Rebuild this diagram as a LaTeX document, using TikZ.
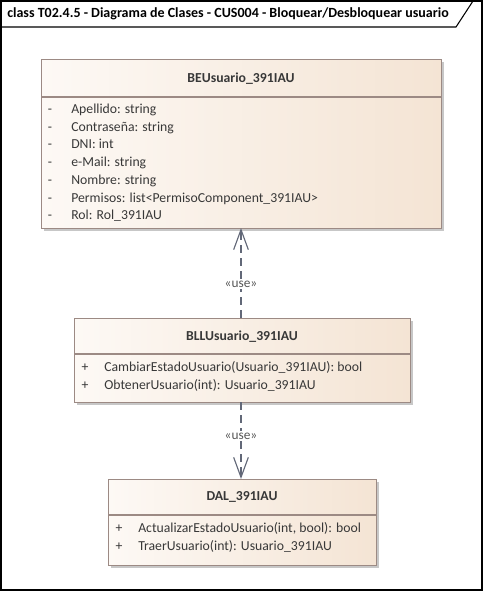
\documentclass[tikz,border=0pt]{standalone}
\usepackage{fontspec}
\setmainfont{Carlito}
\usetikzlibrary{arrows.meta}
\definecolor{txt}{HTML}{383838}
\definecolor{bord}{HTML}{9C8A84}
\definecolor{fillL}{HTML}{FDF9F5}
\definecolor{fillR}{HTML}{F4E4D4}
\definecolor{conn}{HTML}{626878}
\tikzset{
  classbox/.style={draw=bord, line width=0.9pt, rectangle, inner sep=0pt, left color=fillL, right color=fillR, anchor=north west},
  shadowbox/.style={fill=black!22, draw=none, rectangle, inner sep=0pt, anchor=north west},
  hdr/.style={font=\fontsize{10.3}{12}\selectfont\bfseries, text=txt, inner sep=0pt},
  mem/.style={font=\fontsize{10.3}{12}\selectfont, text=txt, anchor=base west, inner sep=0pt},
  vis/.style={font=\fontsize{10.3}{12}\selectfont, text=txt, anchor=base, inner sep=0pt},
  divline/.style={draw=bord, line width=0.9pt},
  usearrow/.style={draw=conn, line width=0.85pt, dash pattern=on 6pt off 3.8pt, -{Straight Barb[length=15pt,width=11pt,line width=0.85pt]}},
  stereo/.style={font=\fontsize{10}{11}\selectfont, text=txt!85, fill=white, inner sep=1pt}
}
\begin{document}
\begin{tikzpicture}[x=0.75pt,y=-0.75pt]
\useasboundingbox (0,0) rectangle (484,592);
% frame
\draw[black, line width=0.8pt] (1,1) rectangle (482,590);
\draw[black, line width=0.8pt] (1,27) -- (456,27) -- (473,1);
\node[font=\fontsize{10.5}{12}\selectfont\bfseries, anchor=west, inner sep=0pt] (title) at (7,14) {class T02.4.5 - Diagrama de Clases - CUS004 - Bloquear/Desbloquear usuario};

% BEUsuario
\node[shadowbox, minimum width=400*0.75pt, minimum height=169*0.75pt] at (44,62) {};
\node[classbox, minimum width=400*0.75pt, minimum height=169*0.75pt] (be) at (41,59) {};
\draw[divline] (41,97) -- (441,97);
\node[hdr] (behdr) at (241,79) {BEUsuario\_391IAU};
\foreach \t [count=\i] in {Apellido: string, Contraseña: string, DNI: int, e-Mail: string, Nombre: string, Permisos: list<PermisoComponent\_391IAU>, Rol: Rol\_391IAU}{
  \node[vis] (bev\i) at (50,{113.5+(\i-1)*17.7}) {-};
  \node[mem] (bem\i) at (71,{113.5+(\i-1)*17.7}) {\t};
}

% BLLUsuario
\node[shadowbox, minimum width=336*0.75pt, minimum height=84*0.75pt] at (77,321) {};
\node[classbox, minimum width=336*0.75pt, minimum height=84*0.75pt] (bll) at (74,318) {};
\draw[divline] (74,354) -- (410,354);
\node[hdr] (bllhdr) at (242,337) {BLLUsuario\_391IAU};
\node[vis] (bllv1) at (85,371.5) {+};
\node[mem] (bllm1) at (104,371.5) {CambiarEstadoUsuario(Usuario\_391IAU): bool};
\node[vis] (bllv2) at (85,389.5) {+};
\node[mem] (bllm2) at (104,389.5) {ObtenerUsuario(int): Usuario\_391IAU};

% DAL
\node[shadowbox, minimum width=268*0.75pt, minimum height=86*0.75pt] at (111,482) {};
\node[classbox, minimum width=268*0.75pt, minimum height=86*0.75pt] (dal) at (108,479) {};
\draw[divline] (108,515) -- (376,515);
\node[hdr] (dalhdr) at (242,497) {DAL\_391IAU};
\node[vis] (dalv1) at (119,532.5) {+};
\node[mem] (dalm1) at (138,532.5) {ActualizarEstadoUsuario(int, bool): bool};
\node[vis] (dalv2) at (119,550.5) {+};
\node[mem] (dalm2) at (138,550.5) {TraerUsuario(int): Usuario\_391IAU};

% connectors
\coordinate (bllT) at (241,318);
\coordinate (beB) at (241,228);
\coordinate (bllB) at (241,402);
\coordinate (dalT) at (241,479);
\draw[usearrow] (bllT) -- node[stereo, pos=0.37] (use1) {«use»} (beB);
\draw[usearrow] (bllB) -- node[stereo, pos=0.44] (use2) {«use»} (dalT);
\end{tikzpicture}
\end{document}
